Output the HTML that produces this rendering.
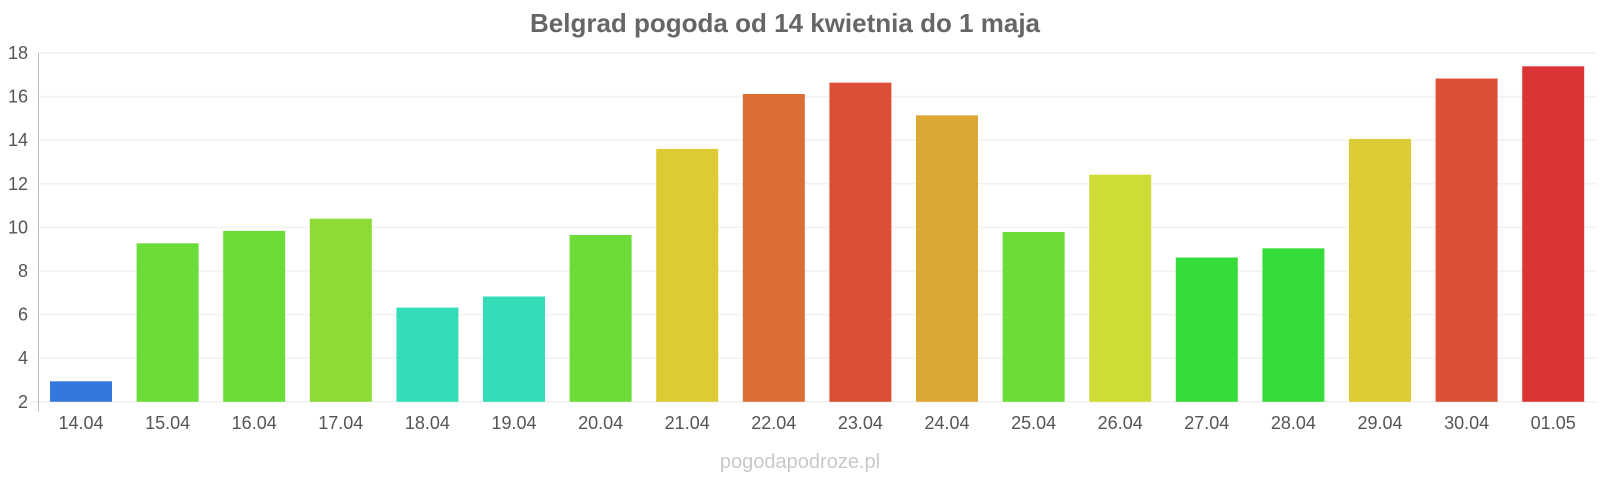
<!DOCTYPE html>
<html><head><meta charset="utf-8"><style>
body{margin:0;background:#fff;}
svg text{font-family:"Liberation Sans",Arial,sans-serif;}
</style></head><body>
<svg width="1600" height="480" xmlns="http://www.w3.org/2000/svg">
<rect width="1600" height="480" fill="#fff"/>
<text x="785" y="32" text-anchor="middle" font-size="26" font-weight="bold" fill="#666">Belgrad pogoda od 14 kwietnia do 1 maja</text>
<g id="grid" stroke="#f2f2f2" stroke-width="1.5">
<line x1="38" x2="1597" y1="53" y2="53"/><line x1="38" x2="1597" y1="96.6" y2="96.6"/>
<line x1="38" x2="1597" y1="140.2" y2="140.2"/><line x1="38" x2="1597" y1="183.8" y2="183.8"/>
<line x1="38" x2="1597" y1="227.4" y2="227.4"/><line x1="38" x2="1597" y1="271" y2="271"/>
<line x1="38" x2="1597" y1="314.6" y2="314.6"/><line x1="38" x2="1597" y1="358.2" y2="358.2"/>
<line x1="30" x2="1597" y1="401.8" y2="401.8"/>
</g>
<line x1="38.5" x2="38.5" y1="53" y2="412" stroke="#c8bcb8" stroke-width="1"/>
<g font-size="18" fill="#555" text-anchor="end">
<text x="28" y="59">18</text><text x="28" y="102.6">16</text><text x="28" y="146.2">14</text>
<text x="28" y="189.8">12</text><text x="28" y="233.4">10</text><text x="28" y="277">8</text>
<text x="28" y="320.6">6</text><text x="28" y="364.2">4</text><text x="28" y="407.8">2</text>
</g>
<g id="bars"></g>
<g id="labels" font-size="18" fill="#555" text-anchor="middle"></g>
<text x="800" y="468" text-anchor="middle" font-size="20" fill="#c8c8c8">pogodapodroze.pl</text>
</svg>
<script>
var d=[["14.04",2.94,"#3578dc"],["15.04",9.27,"#6bdc38"],["16.04",9.84,"#6bdc38"],["17.04",10.4,"#8ddc35"],["18.04",6.32,"#35dcb8"],["19.04",6.83,"#35dcb8"],["20.04",9.65,"#6bdc38"],["21.04",13.6,"#dccb35"],["22.04",16.12,"#dc6e35"],["23.04",16.64,"#dc4e35"],["24.04",15.14,"#dca835"],["25.04",9.79,"#6bdc38"],["26.04",12.42,"#cfdc35"],["27.04",8.62,"#35dc3a"],["28.04",9.04,"#35dc3a"],["29.04",14.06,"#dccb35"],["30.04",16.83,"#dc5035"],["01.05",17.39,"#dc3535"]];
var ns="http://www.w3.org/2000/svg",b=document.getElementById("bars"),l=document.getElementById("labels");
d.forEach(function(e,i){var c=81+i*86.6,y=401.8-(e[1]-2)*21.8;
var r=document.createElementNS(ns,"rect");r.setAttribute("x",c-31);r.setAttribute("y",y);r.setAttribute("width",62);r.setAttribute("height",401.8-y);r.setAttribute("fill",e[2]);b.appendChild(r);
var t=document.createElementNS(ns,"text");t.setAttribute("x",c);t.setAttribute("y",429);t.textContent=e[0];l.appendChild(t);});
</script>
</body></html>
